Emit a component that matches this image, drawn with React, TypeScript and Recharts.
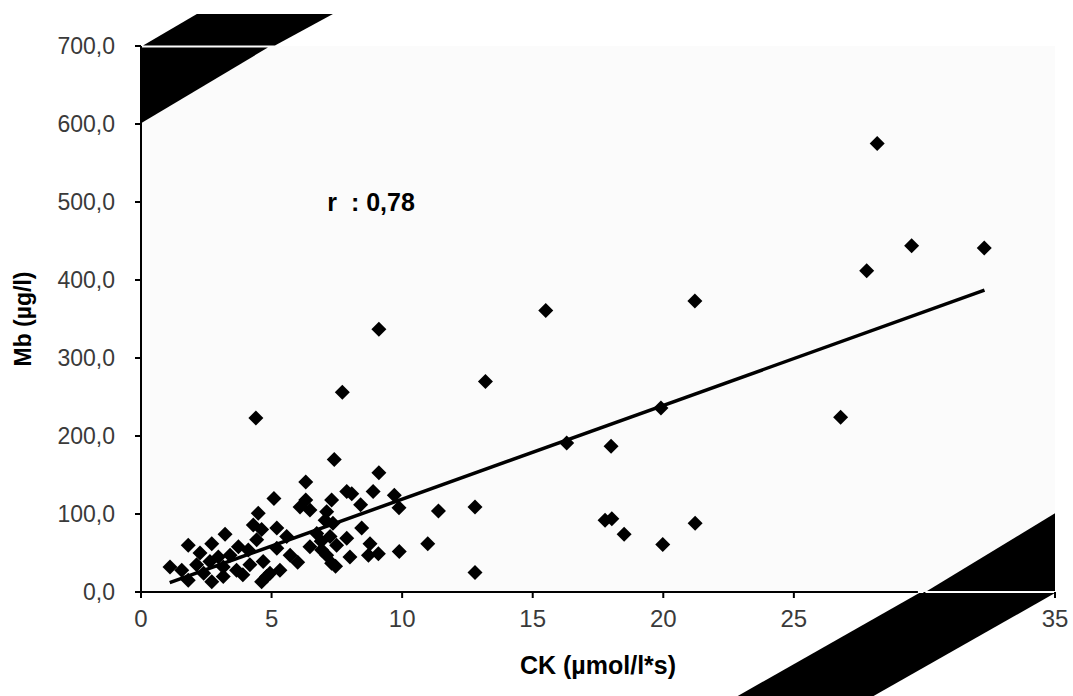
import React from 'react';
import { ScatterChart, Scatter, XAxis, YAxis, ReferenceArea, ReferenceDot, ReferenceLine, CartesianGrid, Label } from 'recharts';

// CK (µmol/l*s) values
const ckValues = [
  28.19, 29.51, 32.29, 27.79, 26.79,
  9.11, 15.5, 21.21, 13.19, 19.91, 16.3, 18.0,
  9.11, 8.89, 9.7, 8.41, 9.88, 11.39, 12.79,
  8.45, 8.77, 8.71, 9.09, 9.89, 10.98, 12.79,
  17.77, 18.03, 18.5, 19.98, 21.22,
  4.4, 7.71, 7.4,
  6.31, 5.09, 7.88, 8.07, 6.31, 7.3,
  6.09, 6.47, 4.49, 7.11, 7.05, 4.3, 3.22, 5.2, 4.62,
  5.58, 6.73, 7.24, 7.88, 1.81, 2.71, 3.73, 4.43, 6.47, 7.49,
  2.26, 2.96, 3.41, 4.11, 5.2, 5.71, 6.92, 7.11, 8.0,
  1.11, 1.56, 2.13, 2.64, 3.15, 3.66, 4.17, 4.68, 4.94, 5.32, 7.3,
  1.81, 2.71, 3.15, 4.62, 4.81,
  7.35, 6.9, 2.4, 3.9, 6.0, 7.45,
];
// Mb (µg/l) values
const mbValues = [
  575, 444, 441, 412, 224,
  337, 361, 373, 270, 236, 191, 187,
  153, 129, 124, 112, 108, 104, 109,
  82, 62, 47, 49, 52, 62, 25,
  92, 94, 74, 61, 88,
  223, 256, 170,
  141, 120, 129, 126, 118, 118,
  109, 105, 101, 103, 92, 86, 74, 82, 80,
  71, 75, 71, 69, 60, 62, 58, 67, 58, 60,
  50, 45, 47, 54, 56, 47, 54, 47, 45,
  32, 28, 35, 39, 32, 28, 35, 39, 24, 28, 37,
  15, 13, 20, 13, 20,
  88, 65, 24, 22, 38, 33,
];

// regression line end points
const trendCk = [1.1, 32.3];
const trendMb = [12, 387];

const xTicks = [0, 5, 10, 15, 20, 25, 30, 35];
const xHiddenTick = 30; // covered by the scan stripe in the original
const yTicks = [0, 100, 200, 300, 400, 500, 600, 700];

// scan artefact stripes (data coordinates)
const stripeTopInner = [[0, 698], [4.86, 698], [0, 601]];
const stripeTopOuter = [[0.08, 700.5], [5.13, 700.5], [7.35, 741], [2.14, 741]];
const stripeBottomInner = [[30.1, 1.4], [35, 101], [35, 1.4]];
const stripeBottomOuter = [[29.8, -1.4], [35, -1.4], [27.7, -140], [22.5, -140]];
const xAxisVisibleEnd = 29.75;

const points = ckValues.map((ck, i) => ({ ck, mb: mbValues[i] }));
const trend = trendCk.map((ck, i) => ({ ck, mb: trendMb[i] }));

const FONT = "'Liberation Sans', Arial, sans-serif";

const Diamond = (props: any) => {
  const { cx, cy } = props;
  if (cx == null || cy == null) return <g />;
  const r = 7.5;
  return <polygon points={`${cx},${cy - r} ${cx + r},${cy} ${cx},${cy + r} ${cx - r},${cy}`} fill="#000" />;
};

const NoShape = () => <g />;

const bbox = (poly: number[][]) => {
  const xs = poly.map((p) => p[0]);
  const ys = poly.map((p) => p[1]);
  return { x1: Math.min(...xs), x2: Math.max(...xs), y1: Math.min(...ys), y2: Math.max(...ys) };
};

const makeStripeShape = (poly: number[][]) => (props: any) => {
  const { x, y, width, height } = props;
  const b = bbox(poly);
  const pts = poly
    .map((p) => {
      const px = x + ((p[0] - b.x1) / (b.x2 - b.x1)) * width;
      const py = y + ((b.y2 - p[1]) / (b.y2 - b.y1)) * height;
      return `${px},${py}`;
    })
    .join(' ');
  return <polygon points={pts} fill="#000" />;
};

const Stripe = (poly: number[][], key: string) => {
  const b = bbox(poly);
  return (
    <ReferenceArea
      key={key}
      x1={b.x1}
      x2={b.x2}
      y1={b.y1}
      y2={b.y2}
      ifOverflow="visible"
      shape={makeStripeShape(poly)}
    />
  );
};

const fmtY = (v: number) => v.toFixed(1).replace('.', ',');
const fmtX = (v: number) => (v === xHiddenTick ? '' : String(v));

const YTitle = (props: any) => {
  const vb = props.viewBox || { x: 0, y: 46, width: 141, height: 546 };
  const cx = vb.x + 23;
  const cy = vb.y + vb.height / 2;
  return (
    <text
      x={cx}
      y={cy}
      transform={`rotate(-90, ${cx}, ${cy})`}
      textAnchor="middle"
      dominantBaseline="central"
      fontFamily={FONT}
      fontWeight="bold"
      fontSize={23}
      fill="#000"
    >
      Mb (µg/l)
    </text>
  );
};

const XTitle = (props: any) => {
  const vb = props.viewBox || { x: 141, y: 592, width: 914, height: 104 };
  const cx = vb.x + vb.width / 2;
  const cy = vb.y + 73;
  return (
    <text
      x={cx}
      y={cy}
      textAnchor="middle"
      dominantBaseline="central"
      fontFamily={FONT}
      fontWeight="bold"
      fontSize={25}
      fill="#000"
    >
      CK (µmol/l*s)
    </text>
  );
};

export default function App() {
  const yTickStyle = { fill: '#3a3a3a', fontSize: 23, fontFamily: FONT };
  const xTickStyle = { fill: '#3a3a3a', fontSize: 24, fontFamily: FONT };
  return (
    <div style={{ position: 'absolute', left: 0, top: 0, width: 1073, height: 696, background: '#fff' }}>
      <ScatterChart width={1073} height={696} margin={{ top: 46, right: 18, bottom: 0, left: 0 }}>
        <CartesianGrid horizontal={false} vertical={false} fill="#fbfbfb" />
        <XAxis
          type="number"
          dataKey="ck"
          domain={[0, 35]}
          ticks={xTicks}
          height={104}
          tickSize={6}
          tickMargin={12}
          axisLine={false}
          tickLine={{ stroke: '#000', strokeWidth: 2 }}
          tick={xTickStyle}
          tickFormatter={fmtX}
          interval={0}
          allowDataOverflow
        >
          <Label content={<XTitle />} />
        </XAxis>
        <YAxis
          type="number"
          dataKey="mb"
          domain={[0, 700]}
          ticks={yTicks}
          width={141}
          tickSize={6}
          tickMargin={20}
          tickFormatter={fmtY}
          axisLine={{ stroke: '#000', strokeWidth: 2 }}
          tickLine={{ stroke: '#000', strokeWidth: 2 }}
          tick={yTickStyle}
          interval={0}
          allowDataOverflow
        >
          <Label content={<YTitle />} />
        </YAxis>
        <Scatter data={points} shape={<Diamond />} isAnimationActive={false} />
        <Scatter
          data={trend}
          line={{ stroke: '#000', strokeWidth: 3.5 }}
          lineType="joint"
          shape={<NoShape />}
          isAnimationActive={false}
        />
        <ReferenceDot
          x={8.81}
          y={500}
          r={0}
          ifOverflow="visible"
          label={{
            value: 'r\u00a0\u00a0: 0,78',
            position: 'center',
            fill: '#000',
            fontWeight: 'bold',
            fontSize: 25,
            fontFamily: FONT,
          }}
        />
        {Stripe(stripeTopInner, 'st1')}
        {Stripe(stripeTopOuter, 'st2')}
        {Stripe(stripeBottomInner, 'sb1')}
        {Stripe(stripeBottomOuter, 'sb2')}
        <ReferenceLine
          segment={[{ x: 0, y: 0 }, { x: xAxisVisibleEnd, y: 0 }]}
          stroke="#000"
          strokeWidth={2}
          ifOverflow="visible"
        />
      </ScatterChart>
    </div>
  );
}
